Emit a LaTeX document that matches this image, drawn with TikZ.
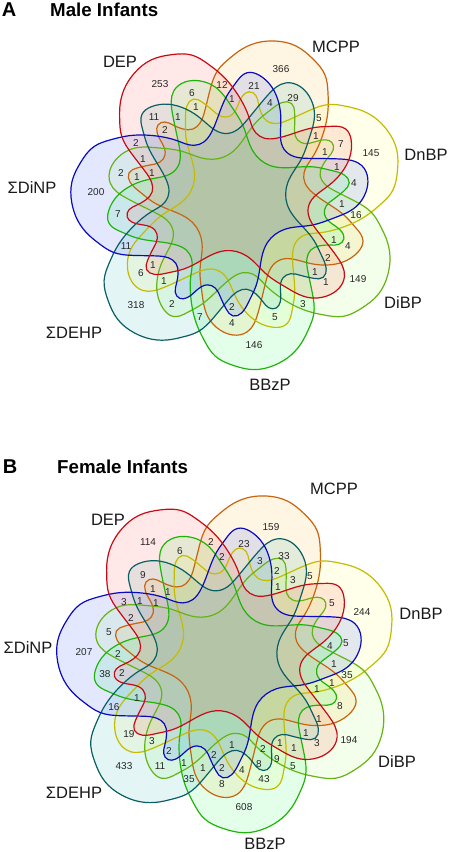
\documentclass[tikz,border=0pt]{standalone}
\usepackage{fontspec}
\setmainfont{Liberation Sans}
\usetikzlibrary{hobby}

\definecolor{mcppline}{HTML}{C8640F}
\definecolor{dnbpline}{HTML}{C4BC00}
\definecolor{dibpline}{HTML}{66B414}
\definecolor{bbzpline}{HTML}{1EB40A}
\definecolor{dehpline}{HTML}{0A5F64}
\definecolor{dinpline}{HTML}{0A0ABE}
\definecolor{depline}{HTML}{C80A14}
\definecolor{mcppfill}{HTML}{FFA000}
\definecolor{dnbpfill}{HTML}{FFFF40}
\definecolor{dibpfill}{HTML}{90FF40}
\definecolor{bbzpfill}{HTML}{00FF40}
\definecolor{dehpfill}{HTML}{00A0A0}
\definecolor{dinpfill}{HTML}{0030FF}
\definecolor{depfill}{HTML}{FF3020}

\tikzset{
  numlabel/.style={font=\fontsize{10}{11}\selectfont, inner sep=0pt, text=black!85},
  setlabel/.style={font=\fontsize{16.5}{18}\selectfont, inner sep=0pt, text=black!90},
  paneltag/.style={font=\fontsize{20}{22}\bfseries\selectfont, inner sep=0pt},
  paneltitle/.style={font=\fontsize{18.7}{22}\bfseries\selectfont, inner sep=0pt, anchor=west}
}

% one set of the seven, the others are this one turned
\newcommand{\vennloop}{plot[closed hobby] coordinates {
  (37,-162) (58,-157) (75,-144) (87,-128) (90,-110) (90,-93) (84,-66) (74,-45) (66,-30)
  (67,-20) (75,-10) (89,0) (107,13) (118,25) (125,38) (120,49) (105,59) (89,62) (75,61)
  (59,57) (45,56) (35,62) (28,78) (20,110) (9,129) (-5,132) (-18,127) (-30,114) (-36,90)
  (-38,67) (-36,40) (-45,20) (-68,7) (-85,-1) (-98,-11) (-108,-21) (-109,-30) (-101,-35)
  (-88,-38) (-78,-41) (-73,-48) (-76,-60) (-81,-71) (-80,-78) (-73,-81) (-65,-78) (-55,-74)
  (-45,-74) (-38,-80) (-33,-93) (-28,-113) (-20,-133) (-8,-145) (1,-152) (18,-160)}}

\newcommand{\vennpanel}[3]{%
  \begin{scope}[shift={(#1,#2)}, scale=#3]
    \foreach \setname [count=\k from 0] in {mcpp,dnbp,dibp,bbzp,dehp,dinp,dep}
      \fill[\setname fill, fill opacity=.11, rotate=-\k*360/7] \vennloop;
    \foreach \setname [count=\k from 0] in {mcpp,dnbp,dibp,bbzp,dehp,dinp,dep}
      \draw[\setname line, line width=1.2pt, rotate=-\k*360/7] \vennloop;
  \end{scope}}

\begin{document}
\begin{tikzpicture}[x=1pt, y=-1pt]
  \useasboundingbox (0,0) rectangle (450,852);

  % panel A
  \node[paneltag] (tagA) at (9,10) {A};
  \node[paneltitle] (titleA) at (50,10) {Male Infants};
  \vennpanel{238}{203}{1}

  \node[setlabel] (aDEP) at (120,62) {DEP};
  \node[setlabel] (aMCPP) at (336,47) {MCPP};
  \node[setlabel] (aDnBP) at (426,155) {DnBP};
  \node[setlabel] (aDiBP) at (403,303) {DiBP};
  \node[setlabel] (aBBzP) at (270,385) {BBzP};
  \node[setlabel] (aDEHP) at (74,333) {ΣDEHP};
  \node[setlabel] (aDiNP) at (32,188) {ΣDiNP};

  \foreach \x/\y/\v [count=\i] in {
    160/84/253, 192/93/6, 222/85/12, 232/99/1, 196/107/1, 154/117/11, 178/117/1,
    165/130/2, 136/143/2, 143/159/1, 121/173/2, 137/177/1, 152/173/1, 96/192/200,
    118/214/7, 281/69/366, 254/86/21, 270/103/4, 293/98/29, 319/118/5, 316/136/1,
    341/144/7, 325/152/1, 371/153/145, 337/167/1, 354/183/4, 342/204/1, 356/215/16,
    334/240/1, 348/246/4, 328/258/2, 315/272/1, 358/279/149, 326/282/1, 303/304/3,
    275/317/5, 254/345/146, 232/307/2, 232/323/4, 126/246/11, 153/265/1, 141/273/6,
    164/281/1, 136/305/318, 172/304/2, 200/317/7}
    \node[numlabel] (a\i) at (\x,\y) {\v};

  % panel B
  \node[paneltag] (tagB) at (10,467) {B};
  \node[paneltitle] (titleB) at (57,467) {Female Infants};
  \vennpanel{228}{662}{1.025}

  \node[setlabel] (bDEP) at (108,520) {DEP};
  \node[setlabel] (bMCPP) at (334,489) {MCPP};
  \node[setlabel] (bDnBP) at (421,614) {DnBP};
  \node[setlabel] (bDiBP) at (397,762) {DiBP};
  \node[setlabel] (bBBzP) at (265,844) {BBzP};
  \node[setlabel] (bDEHP) at (74,793) {ΣDEHP};
  \node[setlabel] (bDiNP) at (28,648) {ΣDiNP};

  \foreach \x/\y/\v [count=\i] in {
    148/542/114, 180/551/6, 211/542/2, 222/557/2, 143/575/9, 153/589/1, 168/592/1,
    124/602/3, 140/601/1, 156/603/1, 131/618/2, 109/632/5, 84/652/207, 118/654/2,
    271/527/159, 244/544/23, 260/561/3, 284/556/33, 277/571/2, 293/580/3, 310/576/5,
    278/587/1, 332/603/5, 362/612/244, 346/643/5, 330/646/4, 334/664/1, 347/675/35,
    317/689/1, 332/683/1, 340/706/8, 319/719/1, 306/733/1, 349/740/194, 317/743/3,
    280/743/1, 294/748/1, 263/749/2, 277/759/9, 259/764/8, 293/766/5, 242/770/4,
    264/779/43, 244/807/608, 105/674/38, 122/673/2, 137/698/1, 114/707/16, 129/734/19,
    152/741/3, 169/751/2, 124/766/433, 160/766/11, 184/763/1, 214/755/2, 232/745/1,
    203/768/1, 222/768/2, 189/779/35, 222/784/8}
    \node[numlabel] (b\i) at (\x,\y) {\v};
\end{tikzpicture}
\end{document}
